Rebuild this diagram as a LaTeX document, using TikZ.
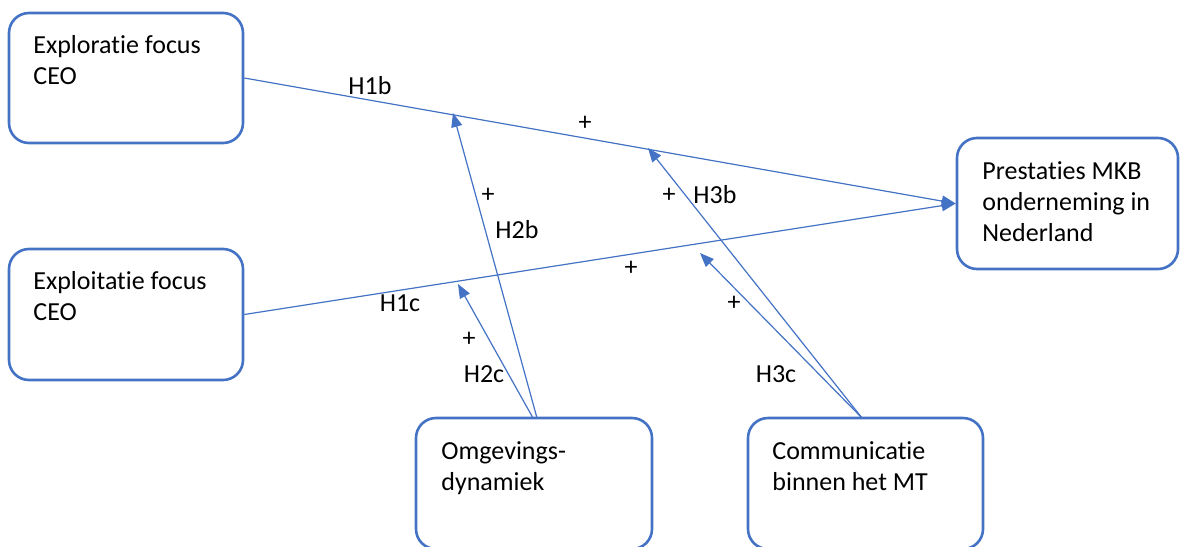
\documentclass[tikz,border=0pt]{standalone}
\usepackage{fontspec}
\setmainfont{Carlito}[Ligatures=NoCommon]
\usetikzlibrary{arrows.meta,calc}
\definecolor{bl}{HTML}{4472C4}
\begin{document}
\begin{tikzpicture}[x=0.5pt,y=-0.5pt,
  box/.style={draw=bl, line width=1.3pt, rounded corners=10pt, inner sep=0pt},
  txt/.style={anchor=base west, align=left, inner sep=0pt, font=\fontsize{13}{15.5}\selectfont},
  lbl/.style={inner sep=0pt, font=\fontsize{13}{15}\selectfont},
  conn/.style={draw=bl, line width=0.6pt, -{Triangle[length=7pt,width=5.5pt]}}]
\useasboundingbox (0,0) rectangle (1181,546);
\clip (0,0) rectangle (1181,546);
\fill[white] (0,0) rectangle (1181,546);
% boxes
\node[box, minimum width=117pt, minimum height=65pt] (exr) at (126,78) {};
\node[box, minimum width=117pt, minimum height=65.5pt] (exi) at (126,314.5) {};
\node[box, minimum width=110.5pt, minimum height=65.5pt] (pre) at (1067.5,203.5) {};
\node[box, minimum width=118pt, minimum height=65.5pt] (omg) at (534,483.5) {};
\node[box, minimum width=117.5pt, minimum height=65.5pt] (com) at (865.5,483.5) {};
% texts (base anchor = last line baseline)
\node[txt] (texr) at (33,84) {Exploratie focus\\CEO};
\node[txt] (texi) at (33,320) {Exploitatie focus\\CEO};
\node[txt] (tpre) at (982,241) {Prestaties MKB\\onderneming in\\Nederland};
\node[txt] (tomg) at (441,490) {Omgevings-\\dynamiek};
\node[txt] (tcom) at (772,490) {Communicatie\\binnen het MT};
% arrow tips
\coordinate (t2b) at (453,113);
\coordinate (t2c) at (458,284);
\coordinate (t3b) at (648,148);
\coordinate (t3c) at (700,253);
\coordinate (s2b) at (537,418);
\coordinate (s2c) at (533,418);
\coordinate (s3) at (862,418);
% connectors
\draw[conn] (exr.east) -- (pre.west);
\draw[conn] (exi.east) -- (pre.west);
\draw[conn] (s2b) -- (t2b);
\draw[conn] (s2c) -- (t2c);
\draw[conn] (s3) -- (t3b);
\draw[conn] (s3) -- (t3c);
% labels
\node[lbl] (l1b) at (370,86) {H1b};
\node[lbl] (p1b) at (585,123) {+};
\node[lbl] (p2b) at (488,195) {+};
\node[lbl] (l2b) at (517,230) {H2b};
\node[lbl] (p3b) at (669,195) {+};
\node[lbl] (l3b) at (715,195) {H3b};
\node[lbl] (p1c) at (631,268) {+};
\node[lbl] (l1c) at (400,303) {H1c};
\node[lbl] (p2c) at (469,339) {+};
\node[lbl] (l2c) at (484,374) {H2c};
\node[lbl] (p3c) at (734,303) {+};
\node[lbl] (l3c) at (776,374) {H3c};
\end{tikzpicture}
\end{document}
